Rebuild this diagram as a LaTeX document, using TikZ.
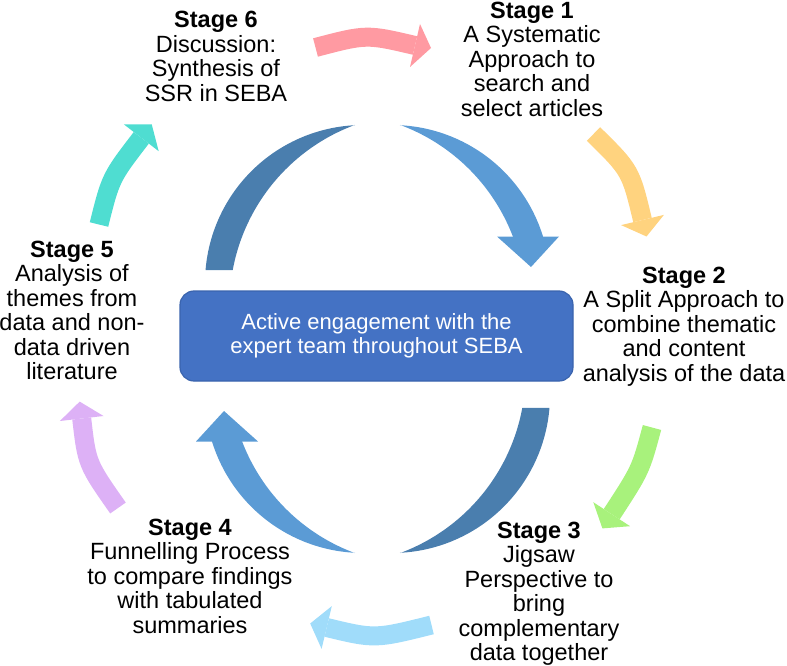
\documentclass[tikz,border=0pt]{standalone}
\usepackage{fontspec}
\setmainfont{Liberation Sans}
\definecolor{darkarc}{HTML}{4A7EAE}
\definecolor{lightarc}{HTML}{5B9BD5}
\definecolor{boxfill}{HTML}{4472C4}
\definecolor{boxline}{HTML}{3A64AE}
\definecolor{pinkA}{HTML}{FF9AA2}
\definecolor{orangeA}{HTML}{FFD37F}
\definecolor{greenA}{HTML}{A8F27C}
\definecolor{blueA}{HTML}{A0DCFA}
\definecolor{lavA}{HTML}{DDB1F6}
\definecolor{tealA}{HTML}{4FDDD1}
\begin{document}
\begin{tikzpicture}[x=1pt,y=-1pt,
  stagetext/.style={font=\fontsize{23.5}{24.5}\selectfont, align=center, anchor=base, inner sep=0pt},
  corebox/.style={draw=boxline, fill=boxfill, rounded corners=14pt, line width=1.2pt,
    minimum width=393pt, minimum height=90pt, inner sep=0pt, text=white,
    font=\fontsize{22}{24}\selectfont, align=center},
  smallshaft/.style={line width=19pt}]
\useasboundingbox (0,0) rectangle (787,666);

% ---- big cycle: upper-left dark crescent
\fill[darkarc] plot[domain=184.7:267.1,samples=60] ({363+158*cos(\x)},{283+158*sin(\x)})
  -- plot[domain=249.7:190.5,samples=60] ({421.5+192*cos(\x)},{305+192*sin(\x)}) -- cycle;
% ---- upper-right light arrow (mirror)
\begin{scope}[shift={(377.5,0)}, xscale=-1, shift={(-377.5,0)}]
\fill[lightarc] plot[domain=196.9:267.1,samples=60] ({363+158*cos(\x)},{283+158*sin(\x)})
  -- plot[domain=249.7:200.7,samples=60] ({421.5+192*cos(\x)},{305+192*sin(\x)}) -- cycle;
\fill[lightarc] (196,236.5) -- (258,236.5) -- (224,267) -- cycle;
\end{scope}
% ---- lower-right dark crescent (rotated)
\begin{scope}[rotate around={180:(377.5,339)}]
\fill[darkarc] plot[domain=184.7:267.1,samples=60] ({363+158*cos(\x)},{283+158*sin(\x)})
  -- plot[domain=249.7:190.5,samples=60] ({421.5+192*cos(\x)},{305+192*sin(\x)}) -- cycle;
\end{scope}
% ---- lower-left light arrow (vertical mirror)
\begin{scope}[shift={(0,339)}, yscale=-1, shift={(0,-339)}]
\fill[lightarc] plot[domain=196.9:267.1,samples=60] ({363+158*cos(\x)},{283+158*sin(\x)})
  -- plot[domain=249.7:200.7,samples=60] ({421.5+192*cos(\x)},{305+192*sin(\x)}) -- cycle;
\fill[lightarc] (196,236.5) -- (258,236.5) -- (224,267) -- cycle;
\end{scope}

% ---- central box
\node[corebox] (core) at (376.5,336) {Active engagement with the\\expert team throughout SEBA};

% ---- small outer arrows
\coordinate (p1) at (315.5,47.5);  \coordinate (p2) at (415,45.5);
\draw[pinkA, smallshaft] (p1) .. controls (366.5,34.1) .. (p2);
\fill[pinkA] (420,24) -- (431,48) -- (410,67) -- cycle;

\coordinate (o1) at (593.5,134);  \coordinate (o2) at (642.5,220);
\draw[orangeA, smallshaft] (o1) .. controls (630.6,170.5) .. (o2);
\fill[orangeA] (663.9,214.9) -- (646.5,236.5) -- (621.1,225.1) -- cycle;

\coordinate (g1) at (652,427.5);  \coordinate (g2) at (611.7,514.2);
\draw[greenA, smallshaft] (g1) .. controls (640.7,469.7) .. (g2);
\fill[greenA] (630.1,526.2) -- (602.4,528.4) -- (593.3,502.2) -- cycle;

\coordinate (b1) at (431.5,625);  \coordinate (b2) at (326.7,627.5);
\draw[blueA, smallshaft] (b1) .. controls (374.9,639.1) .. (b2);
\fill[blueA] (321.6,648.9) -- (310.2,623.5) -- (331.8,606.1) -- cycle;

\coordinate (l1) at (118,508);  \coordinate (l2) at (81.7,418.5);
\draw[lavA, smallshaft] (l1) .. controls (86.9,463.7) .. (l2);
\fill[lavA] (103.5,416) -- (79.7,401.6) -- (59.9,421) -- cycle;

\coordinate (t1) at (99,224.5);  \coordinate (t2) at (141.3,137.8);
\draw[tealA, smallshaft] (t1) .. controls (110.7,177.6) .. (t2);
\fill[tealA] (158.7,151.2) -- (151.7,124.3) -- (123.9,124.4) -- cycle;

% ---- stage texts (anchor = baseline of last line)
\node[stagetext] (s6) at (216,101.5) {\textbf{Stage 6}\\Discussion:\\Synthesis of\\SSR in SEBA};
\node[stagetext] (s1) at (532,116.5) {\textbf{Stage 1}\\A Systematic\\Approach to\\search and\\select articles};
\node[stagetext] (s2) at (684,381) {\textbf{Stage 2}\\A Split Approach to\\combine thematic\\and content\\analysis of the data};
\node[stagetext] (s3) at (539,660.5) {\textbf{Stage 3}\\Jigsaw\\Perspective to\\bring\\complementary\\data together};
\node[stagetext] (s4) at (190,633) {\textbf{Stage 4}\\Funnelling Process\\to compare findings\\with tabulated\\summaries};
\node[stagetext] (s5) at (72,379.5) {\textbf{Stage 5}\\Analysis of\\themes from\\data and non-\\data driven\\literature};
\end{tikzpicture}
\end{document}
